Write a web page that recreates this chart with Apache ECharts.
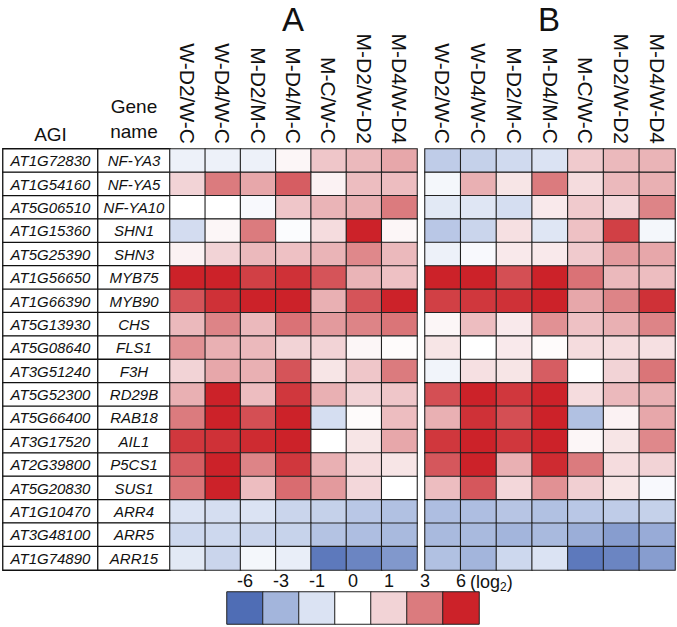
<!DOCTYPE html>
<html>
<head>
<meta charset="utf-8">
<script src="https://cdn.jsdelivr.net/npm/echarts@6/dist/echarts.min.js"></script>
<style>html,body{margin:0;padding:0;background:#fff}#c{width:677px;height:627px}</style>
</head>
<body>
<div id="c"></div>
<script>
const columns = ['W-D2/W-C','W-D4/W-C','M-D2/M-C','M-D4/M-C','M-C/W-C','M-D2/W-D2','M-D4/W-D4'];
const agi = ['AT1G72830','AT1G54160','AT5G06510','AT1G15360','AT5G25390','AT1G56650','AT1G66390','AT5G13930','AT5G08640','AT3G51240','AT5G52300','AT5G66400','AT3G17520','AT2G39800','AT5G20830','AT1G10470','AT3G48100','AT1G74890'];
const genes = ['NF-YA3','NF-YA5','NF-YA10','SHN1','SHN3','MYB75','MYB90','CHS','FLS1','F3H','RD29B','RAB18','AIL1','P5CS1','SUS1','ARR4','ARR5','ARR15'];
const valuesA = [
  [-0.5,-0.5,-0.5,0.2,1.3,1.6,2.0],
  [1.0,3.0,2.0,4.0,0.3,1.5,1.5],
  [0,0,-0.2,1.3,1.7,1.8,3.0],
  [-1.3,0.2,3.0,-0.1,0.8,6,0.2],
  [0.3,1.0,1.6,1.4,1.7,2.7,1.6],
  [6,6,5,5.5,4.3,1.7,1.4],
  [4.3,5.5,6,6,1.8,4.3,6],
  [1.6,2.8,1.6,3.3,2.3,2.8,3.2],
  [2.5,1.8,1.6,1.0,1.0,0.2,0.1],
  [1.0,2.0,1.8,4.3,0.6,1.3,3.0],
  [1.8,6,1.5,5.3,1.8,1.0,1.3],
  [3.0,6,4.5,6,-1.2,0.1,1.5],
  [5.3,5.5,5.7,6,0.0,0.6,2.0],
  [4.0,6,2.8,5.3,1.8,0.8,0.6],
  [3.2,6,1.5,3.5,2.3,0.9,0.0],
  [-1.0,-1.2,-1.0,-1.6,-1.8,-2.2,-2.5],
  [-1.5,-1.5,-1.6,-1.7,-2.4,-2.6,-2.8],
  [-0.8,-1.6,-0.3,-0.6,-5.5,-5.0,-4.2]
];
const valuesB = [
  [-2.0,-1.8,-1.4,-1.0,1.2,1.6,1.7],
  [-0.3,1.8,0.6,3.0,0.8,1.6,1.8],
  [-0.8,-0.9,-1.2,0.5,1.2,0.9,2.8],
  [-2.2,-1.6,0.7,-0.9,1.4,5.0,-0.3],
  [-0.5,-0.2,0.5,0.5,1.2,2.3,2.0],
  [6,6,4.5,6,3.3,1.6,1.5],
  [5.0,5.3,5.5,6,2.0,2.8,5.5],
  [0.2,1.5,0.5,2.5,1.4,1.8,2.8],
  [0.6,0.0,0.5,0.1,0.8,0.8,0.7],
  [-0.4,0.7,0.6,4.0,0.0,1.0,3.2],
  [4.5,6,5.3,6,0.8,1.6,1.8],
  [1.8,5.5,4.5,6,-2.5,0.3,2.0],
  [5.3,6,5.3,6,0.2,0.6,2.7],
  [4.2,6,1.8,5.7,3.0,0.8,1.0],
  [1.5,4.2,0.9,2.5,1.1,0.6,-0.2],
  [-2.6,-2.6,-2.3,-2.5,-2.2,-2.0,-1.8],
  [-2.8,-2.8,-3.0,-2.8,-3.3,-4.0,-3.4],
  [-2.5,-3.0,-1.5,-1.0,-5.5,-5.0,-4.0]
];
const legendTicks = ['-6','-3','-1','0','1','3','6'];
const legendValues = [-6,-3,-1,0,1,3,6];
const colorStops = [[-6,'#4f6db5'],[-3,'#a3b5dc'],[-1,'#dbe3f3'],[0,'#ffffff'],[1,'#f2d3d6'],[3,'#db7b7e'],[6,'#cc2229']];

function hex(c){return [parseInt(c.slice(1,3),16),parseInt(c.slice(3,5),16),parseInt(c.slice(5,7),16)];}
function colorAt(v){
  for(let i=0;i<colorStops.length-1;i++){
    const [a,ca]=colorStops[i],[b,cb]=colorStops[i+1];
    if(v>=a&&v<=b){const t=(v-a)/(b-a);const x=hex(ca),y=hex(cb);
      return 'rgb('+x.map((q,k)=>Math.round(q+(y[k]-q)*t)).join(',')+')';}
  }
  return colorStops[colorStops.length-1][1];
}
const mapColors=[];for(let v=-6;v<=6;v++)mapColors.push(colorAt(v));

const FONT='Liberation Sans, Arial, Helvetica, sans-serif';
const TOP=149, H=421;
function toData(vals){const d=[];vals.forEach((r,i)=>r.forEach((v,j)=>d.push([j,i,v])));return d;}
const rowIdx = agi.map((_,i)=>String(i));

const chart = echarts.init(document.getElementById('c'), null, {renderer:'svg'});
const hiddenY = (gi, n)=>({type:'category',gridIndex:gi,data:n,inverse:true,show:false});
chart.setOption({
  animation:false,
  backgroundColor:'#fff',
  grid:[
    {left:3,top:TOP,width:95,height:H},
    {left:98,top:TOP,width:72,height:H},
    {left:170,top:TOP,width:247,height:H},
    {left:425,top:TOP,width:250,height:H},
    {left:227,top:592,width:252,height:32}
  ],
  xAxis:[
    {type:'category',gridIndex:0,position:'top',data:['AGI'],axisLine:{show:false},axisTick:{show:false},
      axisLabel:{fontSize:19,fontFamily:FONT,color:'#111',margin:5}},
    {type:'category',gridIndex:1,position:'top',data:['Gene\nname'],axisLine:{show:false},axisTick:{show:false},
      axisLabel:{fontSize:19,fontFamily:FONT,color:'#111',margin:5,lineHeight:25}},
    {type:'category',gridIndex:2,position:'top',data:columns,axisLine:{show:false},axisTick:{show:false},
      axisLabel:{rotate:90,fontSize:21,fontFamily:FONT,color:'#111',margin:5,interval:0}},
    {type:'category',gridIndex:3,position:'top',data:columns,axisLine:{show:false},axisTick:{show:false},
      axisLabel:{rotate:90,fontSize:21,fontFamily:FONT,color:'#111',margin:5,interval:0}},
    {type:'category',gridIndex:4,position:'top',data:legendTicks,axisLine:{show:false},axisTick:{show:false},
      axisLabel:{fontSize:18,fontFamily:FONT,color:'#111',margin:2,interval:0}}
  ],
  yAxis:[hiddenY(0,rowIdx),hiddenY(1,rowIdx),hiddenY(2,genes),hiddenY(3,genes),
    {type:'category',gridIndex:4,data:['k'],show:false}],
  visualMap:{type:'continuous',min:-6,max:6,show:false,seriesIndex:[2,3,4],inRange:{color:mapColors}},
  graphic:[
    {type:'text',x:293,y:19,style:{text:'A',font:'33px '+FONT,fill:'#111',align:'center',verticalAlign:'middle'}},
    {type:'text',x:549,y:19,style:{text:'B',font:'33px '+FONT,fill:'#111',align:'center',verticalAlign:'middle'}},
    {type:'text',x:470,y:582,style:{text:'({a|log}{b|2})',fill:'#111',verticalAlign:'middle',
      rich:{a:{fontSize:18,fontFamily:FONT,fill:'#111'},b:{fontSize:12,fontFamily:FONT,fill:'#111',padding:[10,0,0,0]}},
      font:'18px '+FONT}}
  ],
  series:[
    {type:'heatmap',xAxisIndex:0,yAxisIndex:0,data:agi.map((a,i)=>[0,i,0]),
      itemStyle:{color:'#fff',borderColor:'#111',borderWidth:1.3},
      label:{show:true,formatter:p=>agi[p.data[1]],fontSize:15,fontStyle:'italic',fontFamily:FONT,color:'#111'}},
    {type:'heatmap',xAxisIndex:1,yAxisIndex:1,data:genes.map((g,i)=>[0,i,0]),
      itemStyle:{color:'#fff',borderColor:'#111',borderWidth:1.3},
      label:{show:true,formatter:p=>genes[p.data[1]],fontSize:15,fontStyle:'italic',fontFamily:FONT,color:'#111'}},
    {type:'heatmap',xAxisIndex:2,yAxisIndex:2,data:toData(valuesA),itemStyle:{borderColor:'#222',borderWidth:1.1}},
    {type:'heatmap',xAxisIndex:3,yAxisIndex:3,data:toData(valuesB),itemStyle:{borderColor:'#222',borderWidth:1.1}},
    {type:'heatmap',xAxisIndex:4,yAxisIndex:4,data:legendValues.map((v,i)=>[i,0,v]),itemStyle:{borderColor:'#222',borderWidth:1}}
  ]
});
</script>
</body>
</html>
